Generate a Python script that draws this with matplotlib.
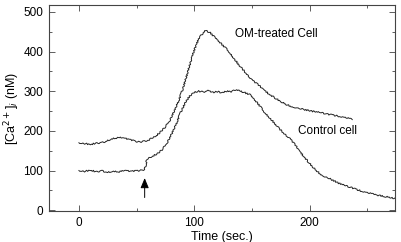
import matplotlib
matplotlib.use("Agg")
import matplotlib.pyplot as plt
from matplotlib.ticker import MultipleLocator

plt.rcParams['font.family'] = ['Liberation Sans', 'DejaVu Sans']

# Control cell trace (time in s, [Ca2+]i in nM)
control_t = [0, 5, 10, 15, 20, 25, 30, 35, 40, 45, 50, 55, 57, 58, 59, 61, 64, 68, 72, 76,
             80, 84, 88, 92, 96, 100, 104, 108, 112, 116, 120, 124, 128, 132, 136, 140,
             144, 148, 152, 156, 160, 165, 170, 174, 178, 183, 187, 191, 195, 200, 205,
             209, 213, 217, 222, 226, 231, 235, 240, 245, 250, 256, 262, 268, 274]
control_v = [100, 98, 101, 97, 99, 96, 98, 97, 100, 98, 99, 101, 103, 115, 128, 132, 137, 142,
             152, 168, 190, 215, 245, 270, 288, 297, 300, 298, 301, 297, 299, 296, 300, 298,
             304, 300, 296, 292, 280, 266, 250, 234, 218, 205, 193, 180, 166, 151, 135, 118,
             102, 92, 85, 80, 73, 67, 62, 58, 53, 48, 44, 40, 36, 33, 30]

# OM-treated cell trace
om_t = [0, 5, 10, 15, 20, 25, 30, 35, 40, 45, 50, 53, 57, 61, 65, 70, 75, 79, 83, 87, 90,
        93, 96, 99, 102, 105, 108, 110, 112, 114, 116, 120, 125, 130, 135, 140, 145, 150,
        155, 160, 165, 170, 175, 180, 185, 190, 195, 200, 205, 210, 215, 220, 225, 230, 237]
om_v = [170, 168, 166, 169, 170, 176, 181, 183, 181, 177, 173, 172, 174, 178, 184, 195, 210,
        228, 252, 280, 305, 335, 365, 395, 420, 437, 448, 453, 450, 447, 441, 430, 415, 400,
        380, 362, 345, 328, 317, 305, 292, 283, 274, 266, 261, 257, 254, 251, 248, 246, 242,
        240, 237, 234, 229]

fig = plt.figure(figsize=(4.01, 2.42), dpi=100)
ax = fig.add_axes([0.122, 0.128, 0.863, 0.851])

for t, v in ((om_t, om_v), (control_t, control_v)):
    ln, = ax.plot(t, v, color='#222222', lw=0.7)
    ln.set_sketch_params(scale=0.7, length=2.0, randomness=3.0)

ax.set_xlim(-26, 274)
ax.set_ylim(-2, 517)
ax.xaxis.set_major_locator(MultipleLocator(100))
ax.xaxis.set_minor_locator(MultipleLocator(50))
ax.yaxis.set_major_locator(MultipleLocator(100))
ax.yaxis.set_minor_locator(MultipleLocator(50))
ax.tick_params(which='both', direction='in', top=True, right=True, labelsize=8.5,
               color='#444444', width=0.6)
ax.tick_params(which='major', length=4, pad=4)
ax.tick_params(which='minor', length=2.5)
for s in ax.spines.values():
    s.set_color('#444444')
    s.set_linewidth(0.8)

ax.set_xlabel('Time (sec.)', fontsize=9, labelpad=2)
ax.set_ylabel('[Ca$^{2+}$]$_i$ (nM)', fontsize=9, labelpad=1)

ax.text(135, 445, 'OM-treated Cell', fontsize=8.5, va='center', ha='left')
ax.text(190, 200, 'Control cell', fontsize=8.5, va='center', ha='left')

ax.annotate('', xy=(57, 88), xytext=(57, 25),
            arrowprops=dict(arrowstyle='-|>,head_length=0.6,head_width=0.25',
                            color='black', lw=0.7))

fig.savefig('out.png', dpi=100)
